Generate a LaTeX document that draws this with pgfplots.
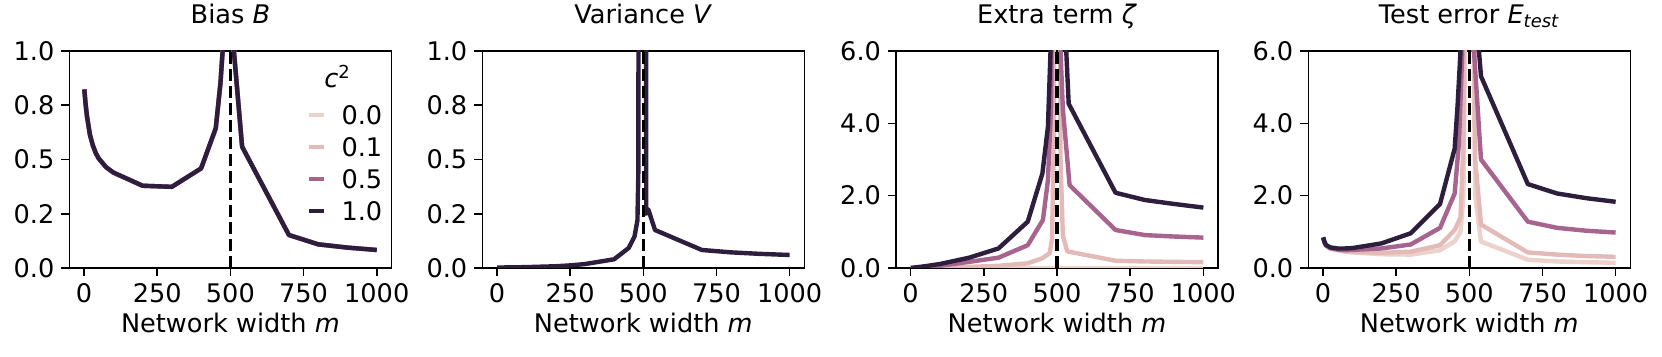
\documentclass[border=0pt]{standalone}
\usepackage{pgfplots}
\pgfplotsset{compat=1.18}
\usepackage{pgfplotstable}
\usepackage{fontspec}
\setmainfont{DejaVu Sans}

\definecolor{cA}{HTML}{EDD1CB}
\definecolor{cB}{HTML}{E4BAB8}
\definecolor{cC}{HTML}{A6648F}
\definecolor{cD}{HTML}{2D1E3E}

% bias is the same for every c^2
\pgfplotstableread{
m v
1 0.823
5 0.76
10 0.70
20 0.615
30 0.565
40 0.53
50 0.505
75 0.465
100 0.44
200 0.379
300 0.374
400 0.459
450 0.644
466 0.851
476 1.05
490 5
500 40
510 1.03
540 0.559
700 0.152
800 0.109
900 0.094
1000 0.083
}\bias

\pgfplotstableread{
m v
1 0.002
100 0.004
200 0.008
250 0.012
300 0.018
400 0.04
450 0.092
470 0.145
480 0.22
483 0.44
490 8
500 30
505 8
510 0.25
517 0.27
540 0.175
700 0.083
800 0.072
900 0.065
1000 0.06
}\variance

\tikzset{vdash/.style={black, line width=1.6pt, dash pattern=on 5.9pt off 2.6pt}}
\pgfplotsset{
  panel/.style={
    scale only axis, width=161pt, height=108.5pt,
    xmin=-50, xmax=1050, ymin=0,
    xtick={0,250,500,750,1000}, xticklabels={0,250,500,750,1000},
    tick align=outside, xtick pos=left, ytick pos=left,
    major tick length=4pt,
    every tick/.style={black, line width=0.8pt},
    axis line style={line width=0.8pt},
    no markers,
    xlabel={Network width \textit{m}},
    xlabel style={at={(axis description cs:0.5,0)}, anchor=base, yshift=-32.5pt},
    title style={at={(axis description cs:0.5,1)}, anchor=base, yshift=7.8pt},
    every axis plot/.append style={line width=2.2pt, line join=round},
  },
}

\begin{document}
\begin{tikzpicture}[font=\fontsize{12.8}{15}\selectfont]
\path[use as bounding box] (0,0) rectangle (831pt,178.5pt);

% Bias
\begin{axis}[panel, at={(34.7pt,44.5pt)}, anchor=south west,
  ymax=1, ytick={0,0.25,0.5,0.75,1}, yticklabels={0.0,0.2,0.5,0.8,1.0},
  title={Bias \textit{B}},
  legend style={draw=none, fill=none, inner sep=0pt, at={(axis description cs:0.737,0.75)}, anchor=north west,
    nodes={inner sep=0pt, text height=9.3pt, text depth=0pt}, row sep=6.7pt,
    /tikz/every odd column/.append style={column sep=7.5pt}},
  legend image code/.code={\draw[#1, line width=2.2pt] (0pt,0pt) -- (7.5pt,0pt);},
  legend cell align=left]
\addplot[cA] table[x=m, y=v] {\bias};
\addplot[cB] table[x=m, y=v] {\bias};
\addplot[cC] table[x=m, y=v] {\bias};
\addplot[cD] table[x=m, y=v] {\bias};
\legend{0.0,0.1,0.5,1.0}
\draw[vdash] (axis cs:500,0) -- (axis cs:500,1);
\node[anchor=base] at (axis description cs:0.833,0.832) {\textit{c}\textsuperscript{2}};
\end{axis}

% Variance
\begin{axis}[panel, at={(241.15pt,44.5pt)}, anchor=south west,
  ymax=1, ytick={0,0.25,0.5,0.75,1}, yticklabels={0.0,0.2,0.5,0.8,1.0},
  title={Variance \textit{V}}]
\addplot[cD] table[x=m, y=v] {\variance};
\draw[vdash] (axis cs:500,0) -- (axis cs:500,1);
\end{axis}

% Extra term
\begin{axis}[panel, at={(448pt,44.5pt)}, anchor=south west,
  ymax=6, ytick={0,2,4,6}, yticklabels={0.0,2.0,4.0,6.0},
  title={Extra term \textit{ζ}}]
\addplot[cA] coordinates {(1,0)(1000,0)};
\addplot[cB] coordinates {(1,0)(100,0.01)(200,0.03)(300,0.06)(400,0.13)(450,0.27)(475,0.41)(483,0.8)(488,3)(500,40)(512,3)(520,0.9)(535,0.46)(700,0.2)(800,0.18)(900,0.17)(1000,0.16)};
\addplot[cC] coordinates {(1,0)(50,0.02)(100,0.06)(200,0.17)(300,0.285)(400,0.63)(452,1.33)(469,2.43)(480,4.5)(490,15)(500,40)(505,15)(511,6.2)(520,4.4)(543,2.29)(700,1.05)(800,0.91)(900,0.87)(1000,0.84)};
\addplot[cD] coordinates {(1,0)(50,0.05)(100,0.11)(200,0.285)(300,0.54)(400,1.28)(450,2.61)(469,3.9)(480,6.5)(490,20)(500,60)(520,8)(540,4.54)(700,2.08)(800,1.88)(900,1.77)(1000,1.67)};
\draw[vdash] (axis cs:500,0) -- (axis cs:500,6);
\end{axis}

% Test error
\begin{axis}[panel, at={(654.15pt,44.5pt)}, anchor=south west,
  ymax=6, ytick={0,2,4,6}, yticklabels={0.0,2.0,4.0,6.0},
  title={Test error \textit{E}\textsubscript{\textit{test}}}]
\addplot[cA] coordinates {(1,0.82)(5,0.71)(10,0.62)(25,0.53)(50,0.49)(75,0.45)(100,0.43)(200,0.38)(300,0.37)(400,0.49)(450,0.74)(470,1.0)(480,2)(490,10)(500,60)(510,10)(520,2)(540,0.73)(700,0.23)(800,0.18)(900,0.16)(1000,0.143)};
\addplot[cB] coordinates {(1,0.82)(5,0.71)(10,0.62)(25,0.54)(50,0.5)(75,0.47)(100,0.45)(200,0.42)(300,0.45)(400,0.63)(450,1.05)(470,1.4)(480,3.5)(490,15)(500,60)(510,15)(520,3)(540,1.2)(700,0.43)(800,0.37)(900,0.33)(1000,0.31)};
\addplot[cC] coordinates {(1,0.83)(5,0.72)(10,0.63)(25,0.55)(50,0.51)(75,0.49)(100,0.5)(200,0.54)(300,0.65)(400,1.11)(450,2.06)(465,3.5)(476,6)(490,20)(500,60)(510,20)(516,6)(540,3.0)(700,1.28)(800,1.11)(900,1.03)(1000,0.98)};
\addplot[cD] coordinates {(1,0.85)(5,0.73)(10,0.64)(25,0.57)(50,0.54)(75,0.54)(100,0.55)(200,0.68)(300,0.96)(400,1.77)(450,3.3)(460,4.5)(470,6.0)(480,15)(500,60)(520,15)(530,6.3)(540,5.3)(700,2.32)(800,2.06)(900,1.93)(1000,1.83)};
\draw[vdash] (axis cs:500,0) -- (axis cs:500,6);
\end{axis}
\end{tikzpicture}
\end{document}
